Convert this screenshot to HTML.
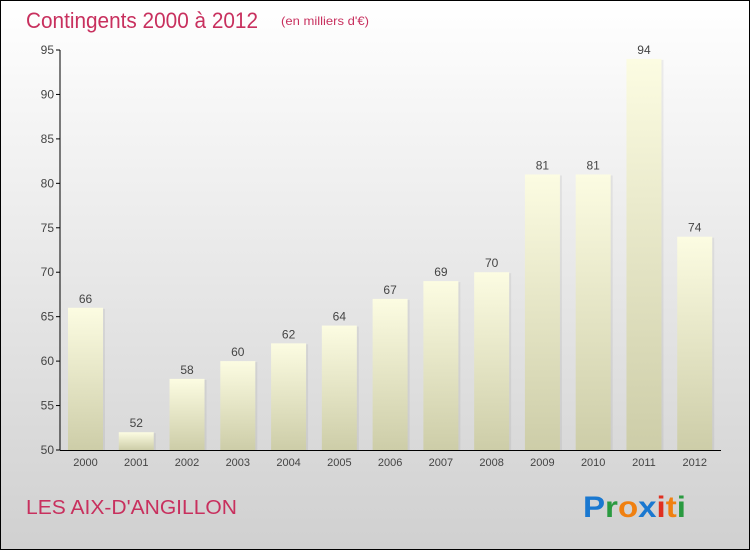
<!DOCTYPE html>
<html><head><meta charset="utf-8"><style>
body{margin:0}
#c{width:750px;height:550px;position:relative;font-family:"Liberation Sans",sans-serif}
</style></head><body>
<div id="c">
<svg width="750" height="550" xmlns="http://www.w3.org/2000/svg" id="svg">
<defs>
<linearGradient id="bg" x1="0" y1="0" x2="0" y2="1"><stop offset="0" stop-color="#ffffff"/><stop offset="1" stop-color="#d0d0d0"/></linearGradient>
<linearGradient id="bar" x1="0" y1="0" x2="0" y2="1"><stop offset="0" stop-color="#fcfce2"/><stop offset="1" stop-color="#cdcda8"/></linearGradient>
</defs>
<rect x="0.5" y="0.5" width="749" height="549" fill="url(#bg)" stroke="#000"/>
<text x="26" y="28" font-size="22" fill="#c8305e" textLength="232" lengthAdjust="spacingAndGlyphs">Contingents 2000 à 2012</text>
<text x="281" y="25" font-size="12" fill="#c8305e" textLength="88" lengthAdjust="spacingAndGlyphs">(en milliers d'€)</text>
<text x="26" y="514" font-size="20" fill="#c8305e" textLength="211" lengthAdjust="spacingAndGlyphs">LES AIX-D'ANGILLON</text>
<g font-size="30" font-family="'Liberation Sans',sans-serif" font-weight="bold">
<text x="583" y="517" textLength="103" lengthAdjust="spacingAndGlyphs"><tspan fill="#1a78d0">P</tspan><tspan fill="#2a9a40">r</tspan><tspan fill="#f08010">o</tspan><tspan fill="#1a78d0">x</tspan><tspan fill="#e03020">i</tspan><tspan fill="#f08010">t</tspan><tspan fill="#2a9a40">i</tspan></text>
</g>
<g id="plot"></g>
</svg>
</div>
<script>
const years=["2000","2001","2002","2003","2004","2005","2006","2007","2008","2009","2010","2011","2012"];
const values=[66,52,58,60,62,64,67,69,70,81,81,94,74];
const yTicks=[50,55,60,65,70,75,80,85,90,95];
const NS="http://www.w3.org/2000/svg";
const g=document.getElementById('plot');
const x0=60,x1=720,slot=(x1-x0)/years.length;
function y(v){return 450-(v-50)*(400/45);}
function mk(t,a){const e=document.createElementNS(NS,t);for(const k in a)e.setAttribute(k,a[k]);g.appendChild(e);return e;}
years.forEach((yr,i)=>{
const bx=x0+slot*i+8,bw=35,top=y(values[i]);
const sh=mk('rect',{x:bx+2,y:top+1,width:bw,height:450-top-1,fill:'#000',opacity:0.06});


const r=mk('rect',{x:bx,y:top,width:bw,height:450-top,fill:'url(#bar)'});


const t=mk('text',{x:bx+bw/2,y:top-5,'text-anchor':'middle','font-size':12,fill:'#444'});
t.textContent=values[i];


const xl=mk('text',{x:bx+bw/2,y:466,'text-anchor':'middle','font-size':11,fill:'#444'});
xl.textContent=yr;


});
yTicks.forEach(v=>{
const l=mk('line',{x1:56,x2:60,y1:y(v),y2:y(v),stroke:'#000'});


const t=mk('text',{x:54,y:y(v)+4,'text-anchor':'end','font-size':12,fill:'#444'});
t.textContent=v;


});
const ya=mk('line',{x1:60,x2:60,y1:y(95),y2:450,stroke:'#000'});


const xa=mk('line',{x1:60,x2:721,y1:450.5,y2:450.5,stroke:'#000'});


</script>
</body></html>
